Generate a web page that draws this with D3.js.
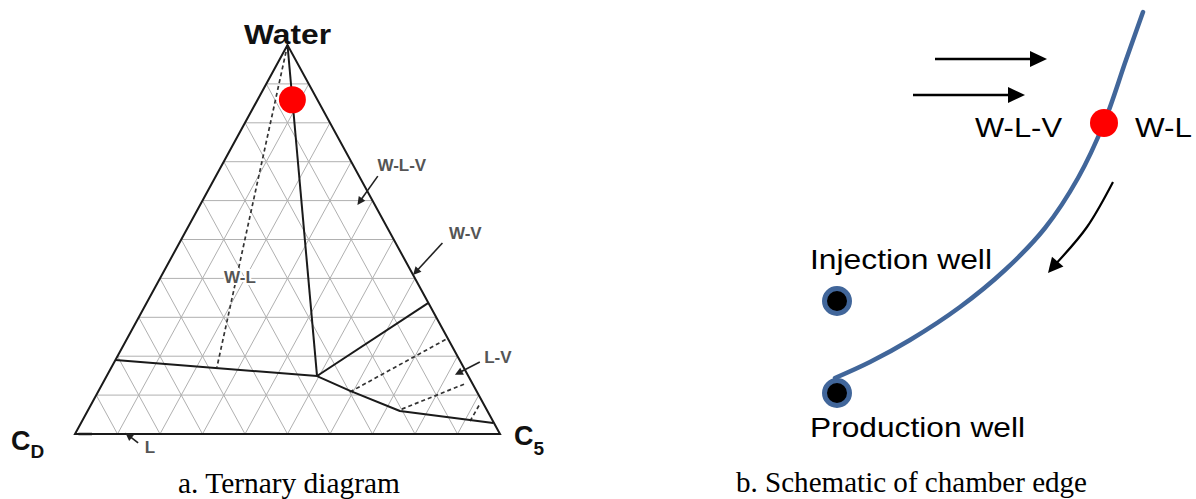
<!DOCTYPE html>
<html>
<head>
<meta charset="utf-8">
<script src="https://cdn.jsdelivr.net/npm/d3@7"></script>
<style>
  html, body { margin: 0; padding: 0; background: #fff; }
  svg { display: block; }
</style>
</head>
<body>
<svg id="fig" width="1196" height="499"></svg>
<script>
// ---------- Panel a: ternary phase diagram ----------
// Compositions are [water fraction, C5 fraction]; C_D = 1 - water - C5.
const gridDivisions = 10;
const phaseBoundaries = [
  [[1.000, 0.000], [0.149, 0.495]],                                   // W-L | W-L-V
  [[0.190, 0.000], [0.149, 0.495]],                                   // W-L | L
  [[0.149, 0.495], [0.337, 0.663]],                                   // W-L-V | L-V
  [[0.149, 0.495], [0.111, 0.592], [0.059, 0.735], [0.028, 0.970]]    // L-V | L
];
const tieLines = [
  [[1.000, 0.000], [0.172, 0.248]],
  [[0.108, 0.593], [0.245, 0.753]],
  [[0.064, 0.737], [0.129, 0.853]],
  [[0.033, 0.913], [0.077, 0.914]]
];
const liquidSegment = [[0.000, 0.008], [0.000, 0.040]];
const edgeComposition = [0.859, 0.082];

const regionLabels = ["W-L-V", "W-V", "L-V", "W-L", "L"];
const regionLabelPos = [[0.692, 0.423], [0.517, 0.660], [0.198, 0.896], [0.404, 0.186], [-0.033, 0.193]];
const regionArrows = [
  [[0.663, 0.381], [0.589, 0.370]],
  [[0.491, 0.619], [0.409, 0.591]],
  [[0.185, 0.860], [0.152, 0.818]],
  null,
  [[-0.023, 0.160], [0.003, 0.117]]
];

const vertexNames = ["Water", "C", "C"];
const vertexSubs = ["", "D", "5"];

// ---------- Panel b: schematic of the chamber edge (10 px units, y up) ----------
const chamberEdge = [[34.3, 43.8], [32.6, 39.0], [30.4, 32.7], [27.8, 27.2], [24.5, 22.2],
                     [20.5, 18.0], [16.0, 14.3], [11.0, 11.0], [7.0, 8.8], [3.5, 7.2]];
const edgePoint = [30.4, 32.7];
const wells = [[3.7, 14.9], [3.7, 5.7]];
const wellNames = ["Injection well", "Production well"];
const wellLabelPos = [[1.0, 18.1], [1.0, 1.3]];
const wellLabelLen = [182, 215];
const flowArrows = [
  [[13.5, 39.1], [24.7, 39.1]],
  [[11.3, 35.5], [22.5, 35.5]]
];
const drainageArrow = [[31.3, 26.8], [28.7, 22.3], [24.8, 17.7]];
const phaseTexts = ["W-L-V", "W-L"];
const phaseTextPos = [[17.5, 31.3], [33.5, 31.3]];
const phaseTextLen = [87, 57];

const captions = ["a. Ternary diagram", "b. Schematic of chamber edge"];
const captionLen = [222, 351];

const svg = d3.select("#fig");

// ---- ternary projection ----
const tx = d3.scaleLinear().domain([0, 1]).range([75, 500]);
const ty = d3.scaleLinear().domain([0, 1]).range([434, 45]);
const proj = ([w, c]) => [tx(c + w / 2), ty(w)];
const tline = d3.line().x(d => proj(d)[0]).y(d => proj(d)[1]);

const gA = svg.append("g");

// grid
const gridSegs = [];
for (let i = 1; i < gridDivisions; i++) {
  const f = i / gridDivisions;
  gridSegs.push([[f, 0], [f, 1 - f]]);      // constant water
  gridSegs.push([[0, f], [1 - f, f]]);      // constant C5
  gridSegs.push([[0, 1 - f], [1 - f, 0]]);  // constant C_D
}
gA.append("g").selectAll("path").data(gridSegs).join("path")
  .attr("d", tline).attr("fill", "none")
  .attr("stroke", "#b0b0b0").attr("stroke-width", 1);

// tie lines
gA.append("g").selectAll("path").data(tieLines).join("path")
  .attr("d", tline).attr("fill", "none")
  .attr("stroke", "#333").attr("stroke-width", 1.7)
  .attr("stroke-dasharray", "4,3");

// phase boundaries
gA.append("g").selectAll("path").data(phaseBoundaries).join("path")
  .attr("d", tline).attr("fill", "none")
  .attr("stroke", "#1a1a1a").attr("stroke-width", 2)
  .attr("stroke-linejoin", "round");

// outer triangle
gA.append("path")
  .attr("d", tline([[1, 0], [0, 0], [0, 1]]) + "Z")
  .attr("fill", "none").attr("stroke", "#1a1a1a").attr("stroke-width", 2)
  .attr("stroke-linejoin", "miter");

gA.append("path").attr("d", tline(liquidSegment))
  .attr("stroke", "#1a1a1a").attr("stroke-width", 2.5);

// arrow helper: line plus a filled head at the end
function arrow(g, pts, headLen, headHalf, width, color, curved) {
  const line = curved ? d3.line().curve(d3.curveNatural) : d3.line();
  const [x1, y1] = pts[pts.length - 2], [x2, y2] = pts[pts.length - 1];
  const ang = Math.atan2(y2 - y1, x2 - x1);
  const ux = Math.cos(ang), uy = Math.sin(ang);
  const bx = x2 - ux * headLen, by = y2 - uy * headLen;
  const shaft = pts.slice(0, -1).concat([[x2 - ux * headLen * 0.7, y2 - uy * headLen * 0.7]]);
  g.append("path").attr("d", line(shaft)).attr("fill", "none")
    .attr("stroke", color).attr("stroke-width", width);
  g.append("path")
    .attr("d", `M${x2},${y2}L${bx - uy * headHalf},${by + ux * headHalf}L${bx + uy * headHalf},${by - ux * headHalf}Z`)
    .attr("fill", color);
}

// region labels and pointers
regionLabels.forEach((t, i) => {
  const [x, y] = proj(regionLabelPos[i]);
  const txt = gA.append("text").attr("x", x).attr("y", y).attr("dy", "0.36em")
    .attr("text-anchor", "middle")
    .attr("font-family", "Liberation Sans, Arial, sans-serif")
    .attr("font-weight", "bold")
    .attr("font-size", 17).attr("fill", "#555").text(t);
  if (t === "W-L") txt.attr("stroke", "#fff").attr("stroke-width", 4).attr("paint-order", "stroke");
  if (regionArrows[i]) arrow(gA, regionArrows[i].map(proj), 8, 4, 1.6, "#222", false);
});

// chamber-edge composition marker
gA.append("circle").attr("cx", proj(edgeComposition)[0]).attr("cy", proj(edgeComposition)[1])
  .attr("r", 13.5).attr("fill", "#ff0000");

// vertex labels
const labelFont = "Liberation Sans, Arial, sans-serif";
const [ax, ay] = proj([1, 0]);
gA.append("text").attr("x", ax).attr("y", ay - 1).attr("text-anchor", "middle")
  .attr("font-family", labelFont).attr("font-weight", "bold").attr("font-size", 27)
  .attr("textLength", 87).attr("lengthAdjust", "spacingAndGlyphs")
  .attr("fill", "#111").text(vertexNames[0]);

const [lx, ly] = proj([0, 0]);
const cd = gA.append("text").attr("x", lx - 64).attr("y", ly + 16)
  .attr("font-family", labelFont).attr("font-weight", "bold").attr("font-size", 27).attr("fill", "#111");
cd.append("tspan").text(vertexNames[1]);
cd.append("tspan").attr("font-size", 19).attr("dy", 8).text(vertexSubs[1]);

const [rx, ry] = proj([0, 1]);
const c5 = gA.append("text").attr("x", rx + 14).attr("y", ry + 11)
  .attr("font-family", labelFont).attr("font-weight", "bold").attr("font-size", 27).attr("fill", "#111");
c5.append("tspan").text(vertexNames[2]);
c5.append("tspan").attr("font-size", 19).attr("dy", 10).text(vertexSubs[2]);

// ---- schematic panel ----
const sx = d3.scaleLinear().domain([0, 40]).range([800, 1200]);
const sy = d3.scaleLinear().domain([0, 45]).range([450, 0]);
const sp = ([x, y]) => [sx(x), sy(y)];
const gB = svg.append("g");

gB.append("path")
  .attr("d", d3.line().curve(d3.curveCatmullRom.alpha(0.5)).x(d => sx(d[0])).y(d => sy(d[1]))(chamberEdge))
  .attr("fill", "none").attr("stroke", "#41669a").attr("stroke-width", 4.5)
  .attr("stroke-linecap", "round");

flowArrows.forEach(a => arrow(gB, a.map(sp), 17, 8, 2.6, "#000", false));
arrow(gB, drainageArrow.map(sp), 15, 7.5, 2.2, "#000", true);

gB.append("circle").attr("cx", sx(edgePoint[0])).attr("cy", sy(edgePoint[1]))
  .attr("r", 14).attr("fill", "#ff0000");

gB.selectAll("circle.well").data(wells).join("circle").attr("class", "well")
  .attr("cx", d => sx(d[0])).attr("cy", d => sy(d[1]))
  .attr("r", 12.5).attr("fill", "#000").attr("stroke", "#41669a").attr("stroke-width", 5);

phaseTexts.forEach((t, i) => {
  gB.append("text").attr("x", sx(phaseTextPos[i][0])).attr("y", sy(phaseTextPos[i][1]))
    .attr("font-family", labelFont).attr("font-size", 28).attr("fill", "#000")
    .attr("textLength", phaseTextLen[i]).attr("lengthAdjust", "spacingAndGlyphs").text(t);
});
wellNames.forEach((t, i) => {
  gB.append("text").attr("x", sx(wellLabelPos[i][0])).attr("y", sy(wellLabelPos[i][1]))
    .attr("font-family", labelFont).attr("font-size", 28).attr("fill", "#000")
    .attr("textLength", wellLabelLen[i]).attr("lengthAdjust", "spacingAndGlyphs").text(t);
});

// ---- captions ----
const capFont = "Liberation Serif, Times New Roman, serif";
svg.append("text").attr("x", 289).attr("y", 493).attr("text-anchor", "middle")
  .attr("font-family", capFont).attr("font-size", 30)
  .attr("textLength", captionLen[0]).attr("lengthAdjust", "spacingAndGlyphs")
  .attr("fill", "#000").text(captions[0]);
svg.append("text").attr("x", 1087).attr("y", 492).attr("text-anchor", "end")
  .attr("font-family", capFont).attr("font-size", 30)
  .attr("textLength", captionLen[1]).attr("lengthAdjust", "spacingAndGlyphs")
  .attr("fill", "#000").text(captions[1]);
</script>
</body>
</html>
